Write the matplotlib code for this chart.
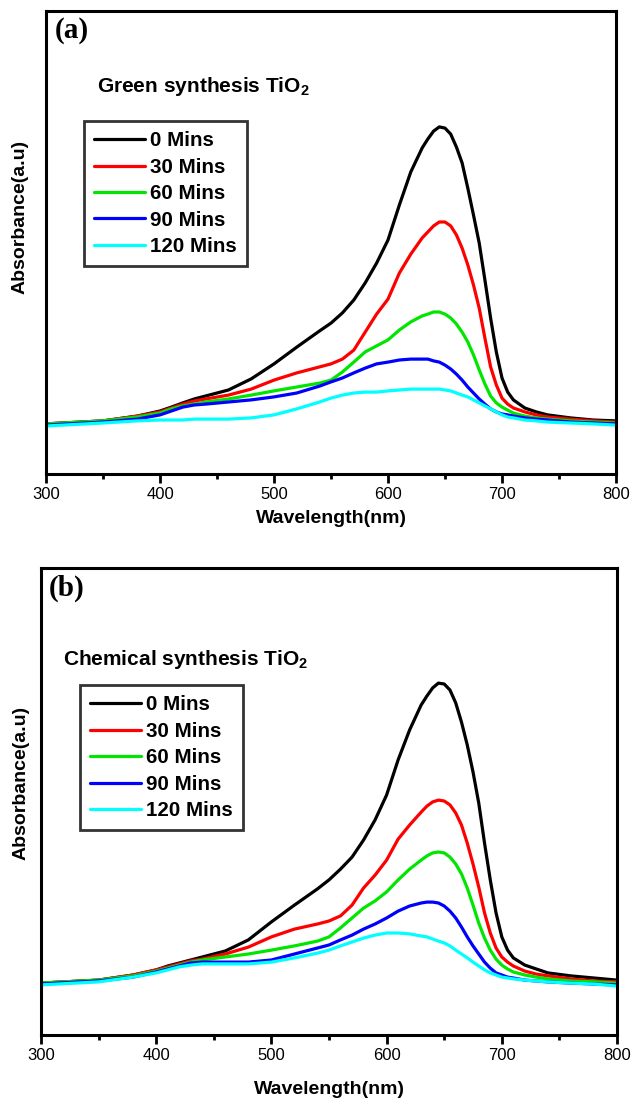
import matplotlib
matplotlib.use("Agg")
import matplotlib.pyplot as plt
from matplotlib.ticker import MultipleLocator

plt.rcParams['font.family'] = ['Liberation Sans', 'DejaVu Sans']
plt.rcParams['mathtext.fontset'] = 'custom'
plt.rcParams['mathtext.rm'] = 'Liberation Sans'
plt.rcParams['mathtext.bf'] = 'Liberation Sans:bold'

# ---------------- data ----------------
wavelength = [300, 350, 380, 400, 410, 420, 430, 440, 460, 480, 500, 520, 540, 550,
              560, 570, 580, 590, 600, 610, 620, 630, 635, 640, 645, 650, 655, 660,
              665, 670, 675, 680, 685, 690, 695, 700, 705, 710, 720, 730, 740, 760,
              780, 800]

labels = ["0 Mins", "30 Mins", "60 Mins", "90 Mins", "120 Mins"]
colors = ["#000000", "#FF0000", "#00E600", "#0000FF", "#00FFFF"]

# (a) Green synthesis TiO2
green_0 = [0.167, 0.177, 0.193, 0.210, 0.223, 0.237, 0.250, 0.260, 0.280, 0.317, 0.367,
           0.423, 0.477, 0.503, 0.537, 0.580, 0.637, 0.703, 0.780, 0.897, 1.007, 1.087,
           1.117, 1.143, 1.157, 1.153, 1.133, 1.090, 1.037, 0.953, 0.863, 0.770, 0.647,
           0.520, 0.407, 0.320, 0.273, 0.247, 0.220, 0.207, 0.197, 0.187, 0.180, 0.177]
green_30 = [0.167, 0.177, 0.193, 0.207, 0.220, 0.233, 0.243, 0.250, 0.263, 0.283, 0.313,
            0.337, 0.357, 0.367, 0.383, 0.413, 0.473, 0.533, 0.583, 0.670, 0.733, 0.787,
            0.807, 0.827, 0.840, 0.840, 0.827, 0.797, 0.753, 0.697, 0.630, 0.553, 0.453,
            0.357, 0.297, 0.253, 0.233, 0.220, 0.207, 0.197, 0.190, 0.183, 0.177, 0.173]
green_60 = [0.167, 0.177, 0.190, 0.203, 0.217, 0.227, 0.233, 0.240, 0.250, 0.263, 0.277,
            0.290, 0.303, 0.313, 0.340, 0.373, 0.407, 0.427, 0.447, 0.480, 0.507, 0.527,
            0.533, 0.540, 0.540, 0.533, 0.520, 0.500, 0.473, 0.440, 0.397, 0.347, 0.300,
            0.260, 0.237, 0.223, 0.213, 0.203, 0.193, 0.187, 0.183, 0.177, 0.173, 0.170]
green_90 = [0.163, 0.173, 0.183, 0.197, 0.210, 0.223, 0.230, 0.233, 0.240, 0.247, 0.257,
            0.270, 0.293, 0.307, 0.320, 0.337, 0.353, 0.367, 0.373, 0.380, 0.383, 0.383,
            0.383, 0.377, 0.373, 0.363, 0.350, 0.333, 0.313, 0.290, 0.270, 0.250, 0.233,
            0.217, 0.207, 0.200, 0.197, 0.193, 0.187, 0.183, 0.180, 0.173, 0.170, 0.167]
green_120 = [0.160, 0.170, 0.177, 0.180, 0.180, 0.180, 0.183, 0.183, 0.183, 0.187, 0.197,
             0.217, 0.240, 0.253, 0.263, 0.270, 0.273, 0.273, 0.277, 0.280, 0.283, 0.283,
             0.283, 0.283, 0.283, 0.280, 0.277, 0.270, 0.263, 0.257, 0.247, 0.237, 0.227,
             0.217, 0.207, 0.197, 0.190, 0.187, 0.180, 0.177, 0.173, 0.170, 0.167, 0.163]

# (b) Chemical synthesis TiO2
chem_0 = [0.173, 0.183, 0.200, 0.217, 0.230, 0.240, 0.250, 0.260, 0.280, 0.317, 0.377,
          0.433, 0.487, 0.517, 0.553, 0.593, 0.650, 0.717, 0.800, 0.917, 1.017, 1.100,
          1.130, 1.157, 1.173, 1.170, 1.150, 1.107, 1.043, 0.967, 0.877, 0.773, 0.640,
          0.517, 0.407, 0.327, 0.283, 0.257, 0.233, 0.220, 0.207, 0.197, 0.190, 0.183]
chem_30 = [0.173, 0.183, 0.200, 0.217, 0.227, 0.237, 0.247, 0.253, 0.270, 0.293, 0.327,
           0.353, 0.370, 0.380, 0.397, 0.433, 0.490, 0.533, 0.583, 0.653, 0.700, 0.743,
           0.763, 0.777, 0.783, 0.780, 0.767, 0.740, 0.700, 0.640, 0.570, 0.493, 0.407,
           0.340, 0.290, 0.260, 0.243, 0.230, 0.213, 0.203, 0.197, 0.187, 0.180, 0.177]
chem_60 = [0.173, 0.183, 0.197, 0.213, 0.223, 0.233, 0.243, 0.250, 0.260, 0.270, 0.283,
           0.297, 0.313, 0.327, 0.357, 0.390, 0.423, 0.447, 0.477, 0.517, 0.553, 0.583,
           0.597, 0.607, 0.610, 0.607, 0.593, 0.570, 0.537, 0.490, 0.433, 0.373, 0.323,
           0.283, 0.253, 0.233, 0.220, 0.210, 0.200, 0.193, 0.187, 0.180, 0.177, 0.173]
chem_90 = [0.170, 0.180, 0.193, 0.210, 0.220, 0.230, 0.240, 0.243, 0.243, 0.243, 0.250,
           0.270, 0.290, 0.300, 0.317, 0.333, 0.353, 0.370, 0.390, 0.413, 0.430, 0.440,
           0.443, 0.443, 0.440, 0.430, 0.413, 0.390, 0.360, 0.327, 0.297, 0.270, 0.243,
           0.223, 0.207, 0.200, 0.193, 0.190, 0.183, 0.180, 0.177, 0.173, 0.170, 0.167]
chem_120 = [0.167, 0.177, 0.193, 0.207, 0.217, 0.227, 0.233, 0.237, 0.237, 0.237, 0.243,
            0.257, 0.273, 0.283, 0.297, 0.310, 0.323, 0.333, 0.340, 0.340, 0.337, 0.330,
            0.327, 0.320, 0.313, 0.307, 0.297, 0.283, 0.270, 0.257, 0.243, 0.230, 0.217,
            0.207, 0.200, 0.193, 0.190, 0.187, 0.183, 0.180, 0.177, 0.173, 0.170, 0.163]

panels = [
    {"tag": "(a)", "title": r"Green synthesis TiO$_\mathbf{2}$",
     "series": [green_0, green_30, green_60, green_90, green_120]},
    {"tag": "(b)", "title": r"Chemical synthesis TiO$_\mathbf{2}$",
     "series": [chem_0, chem_30, chem_60, chem_90, chem_120]},
]

# ---------------- layout ----------------
W, H = 634, 1103
fig = plt.figure(figsize=(W / 100, H / 100), dpi=100)
fig.patch.set_facecolor("white")

# axes boxes in pixels: (left, top, right, bottom)
boxes = [(46, 11, 616, 474), (41, 568, 617, 1035)]
ylims = [(0, 463 / 300), (0, 467 / 300)]
tag_pos = [(0.016, 0.957), (0.014, 0.957)]
title_pos = [(0.0895, 0.836), (0.038, 0.803)]
legend_pos = [(0.0667, 0.762), (0.0677, 0.749)]
ylabel_pos = [(-0.031, 0.555), (-0.020, 0.54)]
xlabel_pos = [(0.5, -0.078), (0.5, -0.098)]

for i, p in enumerate(panels):
    l, t, r, b = boxes[i]
    ax = fig.add_axes([l / W, 1 - b / H, (r - l) / W, (b - t) / H])
    for s, c, lab in zip(p["series"], colors, labels):
        ax.plot(wavelength, s, color=c, lw=2.3, label=lab, solid_capstyle="round")
    ax.set_xlim(300, 800)
    ax.set_ylim(*ylims[i])
    ax.xaxis.set_major_locator(MultipleLocator(100))
    ax.xaxis.set_minor_locator(MultipleLocator(50))
    ax.set_yticks([])
    ax.tick_params(axis="x", which="major", direction="out", length=6.5, width=2,
                   labelsize=12, pad=3)
    ax.tick_params(axis="x", which="minor", direction="out", length=3.4, width=2)
    ax.tick_params(top=False, right=False)
    for sp in ax.spines.values():
        sp.set_linewidth(2.2)
    ax.set_xlabel("Wavelength(nm)", fontsize=14, fontweight="bold")
    ax.xaxis.set_label_coords(*xlabel_pos[i])
    ax.set_ylabel("Absorbance(a.u)", fontsize=14, fontweight="bold")
    ax.yaxis.set_label_coords(*ylabel_pos[i])

    ax.text(tag_pos[i][0], tag_pos[i][1], p["tag"], transform=ax.transAxes,
            fontsize=21, fontweight="bold", family="Liberation Serif",
            ha="left", va="center")
    ax.text(title_pos[i][0], title_pos[i][1], p["title"], transform=ax.transAxes,
            fontsize=15, fontweight="bold", ha="left", va="center")

    leg = ax.legend(loc="upper left", bbox_to_anchor=legend_pos[i], borderaxespad=0,
                    fancybox=False, frameon=True, edgecolor="black",
                    prop={"weight": "bold", "size": 14.8},
                    handlelength=2.45, handletextpad=0.25, labelspacing=0.36,
                    borderpad=0.5)
    leg.get_frame().set_linewidth(2.0)
    for ln in leg.get_lines():
        ln.set_linewidth(2.3)

fig.savefig("out.png", dpi=100, facecolor="white")
